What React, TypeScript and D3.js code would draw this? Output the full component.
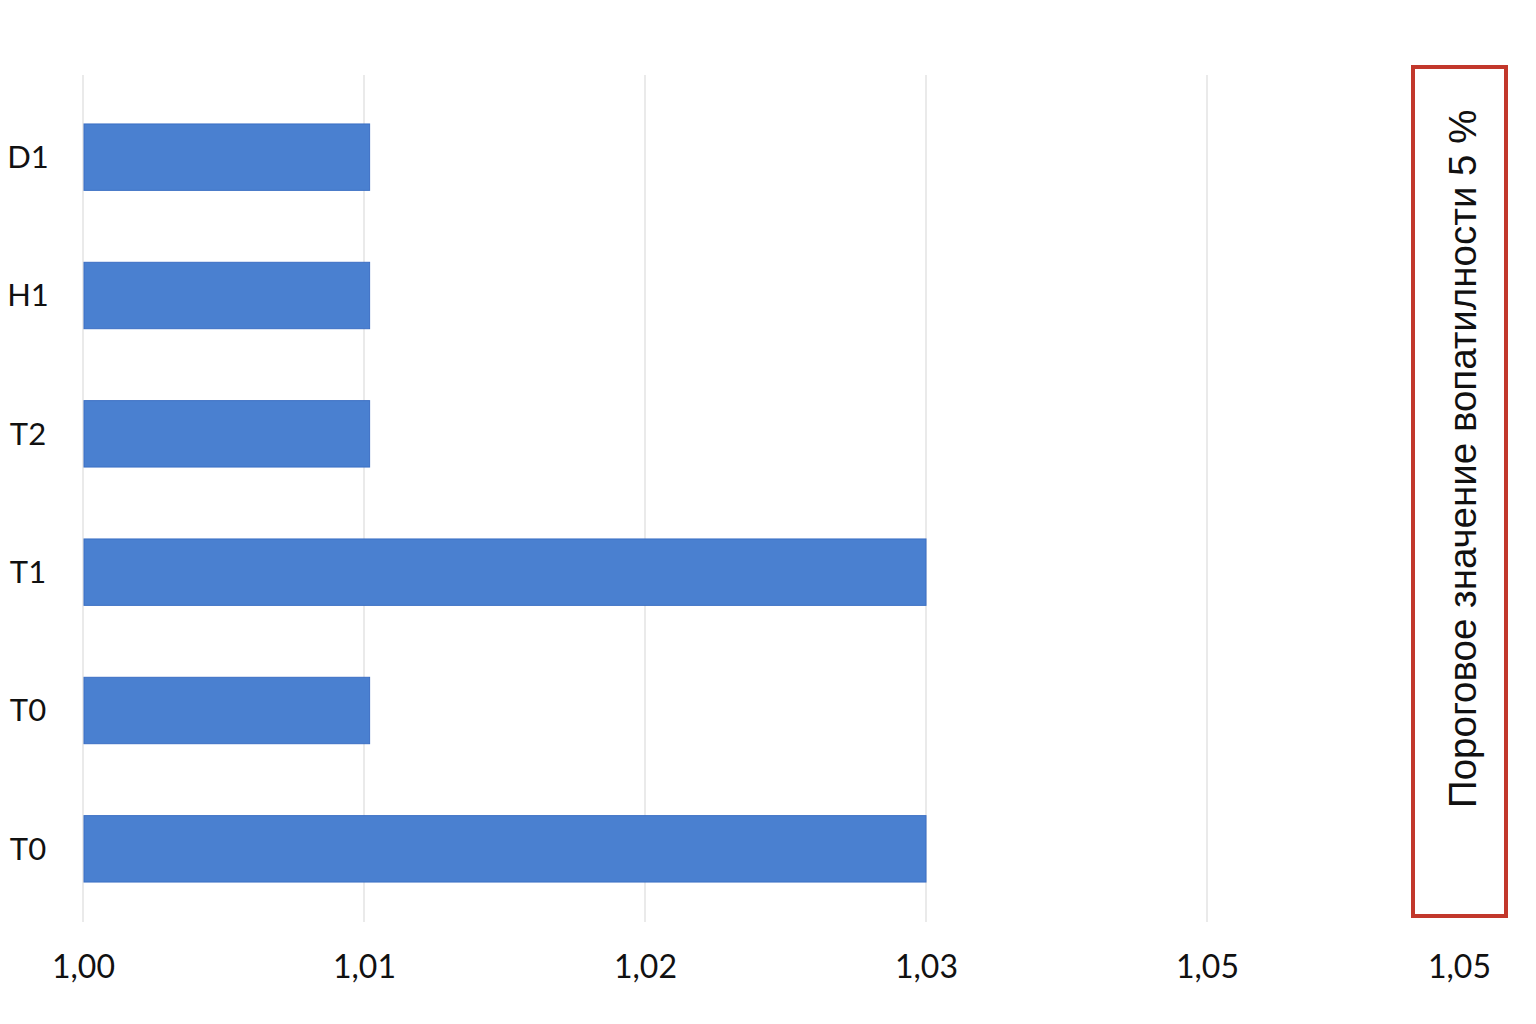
import React, { useEffect, useRef } from 'react';
import * as d3 from 'd3';

const categories = ['D1', 'H1', 'T2', 'T1', 'T0', 'T0'];
const values = [1.0102, 1.0102, 1.0102, 1.03, 1.0102, 1.03];
const tickValues = [1.0, 1.01, 1.02, 1.03, 1.04];
const tickLabels = ['1,00', '1,01', '1,02', '1,03', '1,05'];
const thresholdLabel = '1,05';
const thresholdText = 'Пороговое значение вопатилности 5 %';

const App = () => {
  const ref = useRef<SVGSVGElement>(null);

  useEffect(() => {
    const svg = d3.select(ref.current);
    svg.selectAll('*').remove();

    const x = d3.scaleLinear().domain([1.0, 1.04]).range([83, 1207]);
    // duplicate labels, so band on index
    const y = d3
      .scaleBand<number>()
      .domain(categories.map((_, i) => i))
      .range([88, 918])
      .paddingInner(0.52)
      .paddingOuter(0.26);

    // grid
    svg
      .append('g')
      .selectAll('line')
      .data(tickValues)
      .join('line')
      .attr('x1', d => x(d))
      .attr('x2', d => x(d))
      .attr('y1', 75)
      .attr('y2', 922)
      .attr('stroke', '#e3e3e3')
      .attr('stroke-width', 1.5);

    // bars
    svg
      .append('g')
      .selectAll('rect')
      .data(values)
      .join('rect')
      .attr('x', x(1.0) + 1)
      .attr('y', (_, i) => y(i)!)
      .attr('width', d => x(d) - x(1.0) - 1)
      .attr('height', y.bandwidth())
      .attr('fill', '#4a80d0')
      .attr('stroke', '#3b6fc4')
      .attr('stroke-width', 1);

    // category labels
    svg
      .append('g')
      .selectAll('text')
      .data(categories)
      .join('text')
      .attr('x', 28)
      .attr('y', (_, i) => y(i)! + y.bandwidth() / 2)
      .attr('dy', '0.35em')
      .attr('text-anchor', 'middle')
      .style('font-family', 'Lato, sans-serif')
      .style('font-size', '31px')
      .attr('fill', '#111')
      .text(d => d);

    // x axis
    const xAxis = d3
      .axisBottom(x)
      .tickValues(tickValues)
      .tickSize(0)
      .tickPadding(0)
      .tickFormat((_, i) => tickLabels[i]);

    const gx = svg.append('g').attr('transform', 'translate(0,967)').call(xAxis);
    gx.select('.domain').remove();
    gx.selectAll('text')
      .attr('dy', '0.35em')
      .attr('y', 0)
      .style('font-family', 'Lato, sans-serif')
      .style('font-size', '32px')
      .attr('fill', '#111');

    // threshold box
    const bx = 1413;
    const bw = 93;
    svg
      .append('rect')
      .attr('x', bx)
      .attr('y', 67)
      .attr('width', bw)
      .attr('height', 849)
      .attr('fill', 'none')
      .attr('stroke', '#c2372b')
      .attr('stroke-width', 4);

    svg
      .append('text')
      .attr('transform', `translate(${bx + bw / 2 + 3},808) rotate(-90)`)
      .attr('x', 0)
      .attr('y', 0)
      .attr('dy', '0.35em')
      .style('font-family', '"Liberation Sans", Arial, sans-serif')
      .style('font-size', '38.5px')
      .attr('fill', '#111')
      .text(thresholdText);

    svg
      .append('text')
      .attr('x', bx + bw / 2)
      .attr('y', 967)
      .attr('dy', '0.35em')
      .attr('text-anchor', 'middle')
      .style('font-family', 'Lato, sans-serif')
      .style('font-size', '32px')
      .attr('fill', '#111')
      .text(thresholdLabel);
  }, []);

  return (
    <svg
      ref={ref}
      width={1536}
      height={1024}
      style={{ position: 'absolute', left: 0, top: 0, background: '#fff' }}
    />
  );
};

export default App;
